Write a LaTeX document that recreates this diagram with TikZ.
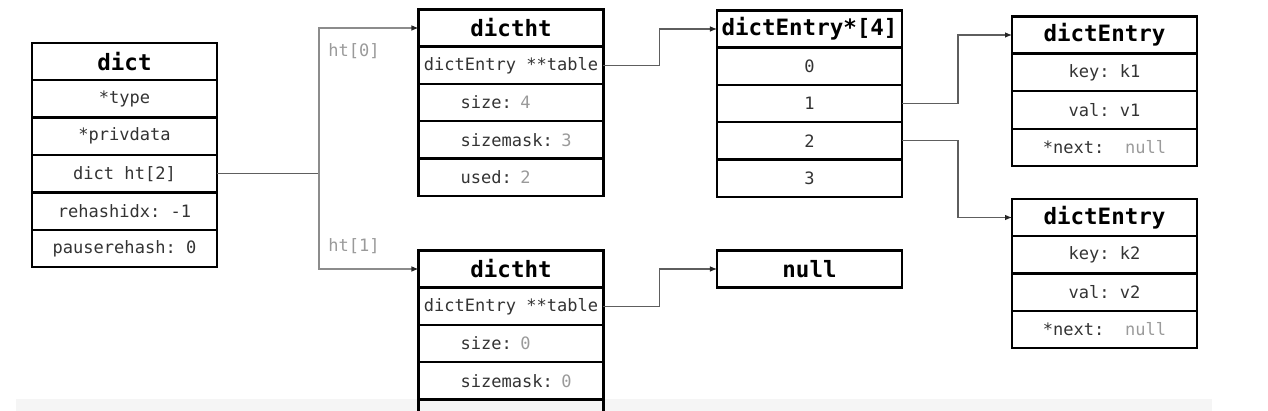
\documentclass[tikz,border=0pt]{standalone}
\usepackage{fontspec}
\setmonofont{DejaVu Sans Mono}
\usepackage{tikz}
\usetikzlibrary{arrows.meta}
\usetikzlibrary{positioning}
\definecolor{ink}{HTML}{333333}
\definecolor{valgray}{HTML}{9A9A9A}
\definecolor{linkgray}{HTML}{5E5E5E}
\definecolor{forkgray}{HTML}{8C8C8C}

\begin{document}
\begin{tikzpicture}[x=0.02cm,y=-0.02cm,
    cell/.style={draw,line width=1.2pt,minimum width=3.7cm,minimum height=0.746cm,
        inner sep=0pt,outer sep=0pt,text=ink,font=\ttfamily\fontsize{9.7}{11}\selectfont},
    lcell/.style={cell,text width=3.7cm,align=left,execute at begin node=\hspace*{0.84cm}},
    head/.style={cell,minimum height=0.74cm,text=black,font=\ttfamily\bfseries\fontsize{12.8}{14}\selectfont},
    link/.style={draw=linkgray,line width=0.6pt},
    tip/.style={link,-{Latex[length=4pt,width=3.2pt,color=black!85]}},
    htlabel/.style={text=valgray,font=\ttfamily\fontsize{9.7}{11}\selectfont}]
            \useasboundingbox (0,0) rectangle (1268,411);
            \clip (0,0) rectangle (1268,411);
            \fill[black!4] (16,399) rectangle (1212,411);
            \node[head] (D) at (124.5,61.5) {dict};
            \foreach \t [count=\i] in {{*type},{*privdata},{dict ht[2]},{rehashidx: -1},{pauserehash: 0}}
                \node[cell] (D-\i) at (124.5,61.5+37.4*\i) {\t};
            \node[head] (T0) at (511,28) {dictht};
            \node[cell] (T0-1) at (511,65.3) {dictEntry **table};
            \foreach \t [count=\i from 2] in {{size: \textcolor{valgray}{4}},{sizemask: \textcolor{valgray}{3}},{used: \textcolor{valgray}{2}}}
                \node[lcell] (T0-\i) at (511,28+37.3*\i) {\t};
            \node[head] (T1) at (511,269) {dictht};
            \node[cell] (T1-1) at (511,306.3) {dictEntry **table};
            \foreach \t [count=\i from 2] in {{size: \textcolor{valgray}{0}},{sizemask: \textcolor{valgray}{0}},{}}
                \node[lcell] (T1-\i) at (511,269+37.3*\i) {\t};
            \node[head] (A) at (809.5,29) {dictEntry*[4]};
            \foreach \t [count=\i] in {0,1,2,3}
                \node[cell] (A-\i) at (809.5,29+37.3*\i) {\t};
            \node[head] (N) at (809.5,269) {null};
            \node[head] (E1) at (1104.5,35) {dictEntry};
            \foreach \t [count=\i] in {{key: k1},{val: v1},{*next:~ \textcolor{valgray}{null}}}
                \node[cell] (E1-\i) at (1104.5,35+37.5*\i) {\t};
            \node[head] (E2) at (1104.5,217.5) {dictEntry};
            \foreach \t [count=\i] in {{key: k2},{val: v2},{*next:~ \textcolor{valgray}{null}}}
                \node[cell] (E2-\i) at (1104.5,217.5+37.3*\i) {\t};
            \draw[link] (D-3.east) -- ++(102,0) coordinate (F);
            \draw[tip,draw=forkgray] (F) |- (T0.west);
            \draw[tip,draw=forkgray] (F) |- (T1.west);
            \node[htlabel] (L0) at (354,51) {ht[0]};
            \node[htlabel] (L1) at (354,246) {ht[1]};
            \draw[tip] (T0-1.east) -- ++(56,0) |- (A.west);
            \draw[tip] (T1-1.east) -- ++(56,0) |- (N.west);
            \draw[tip] (A-2.east) -- ++(56,0) |- (E1.west);
            \draw[tip] (A-3.east) -- ++(56,0) |- (E2.west);
        \end{tikzpicture}
\end{document}
